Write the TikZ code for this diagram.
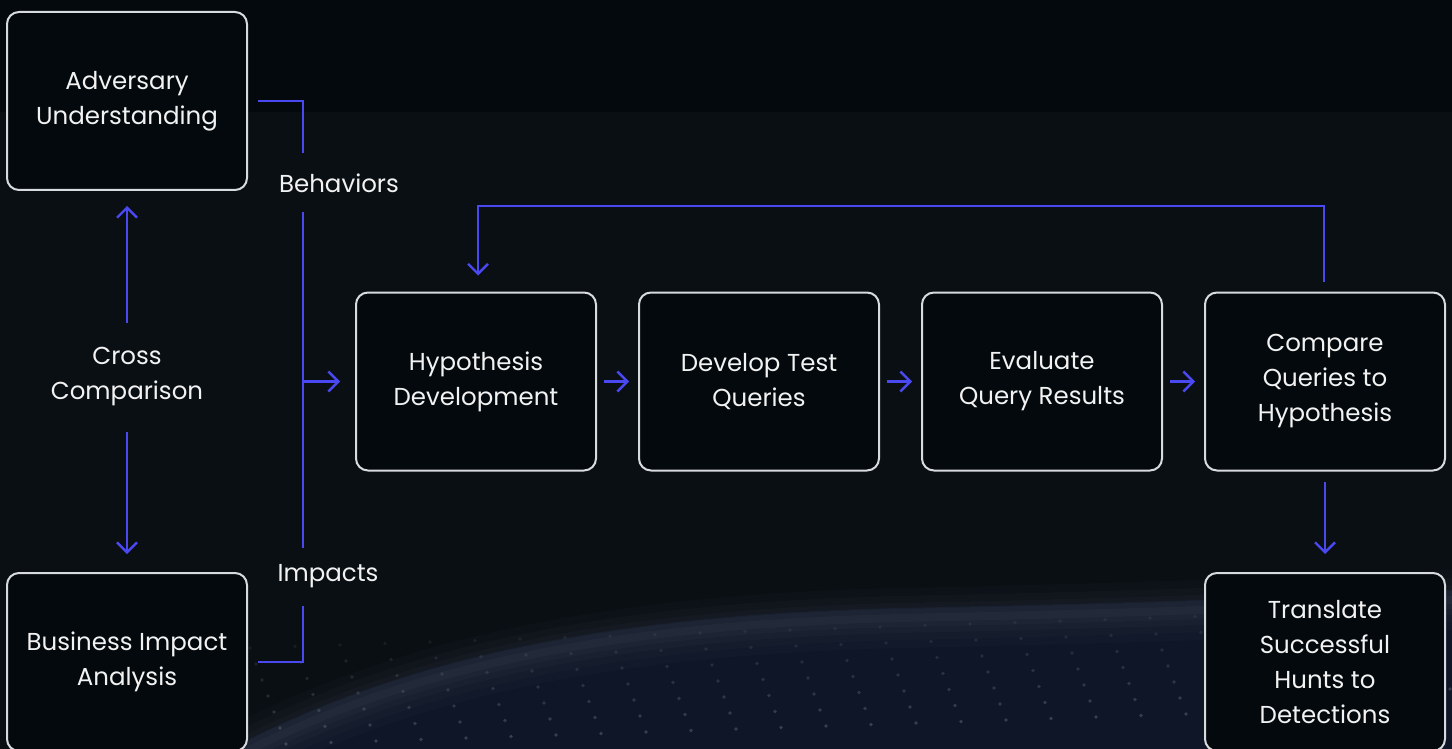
\documentclass[tikz,border=0pt]{standalone}
\usepackage{fontspec}
\setmainfont{Poppins}
\usetikzlibrary{arrows.meta,calc}
\definecolor{bgmain}{HTML}{0A0F14}
\definecolor{bgtop}{HTML}{04090D}
\definecolor{boxfill}{HTML}{03090C}
\definecolor{boxline}{HTML}{D8DBDE}
\definecolor{flow}{RGB}{74,72,240}
\definecolor{txt}{HTML}{F2F2F2}
\definecolor{wave}{HTML}{4A5262}
\definecolor{wavedark}{HTML}{121A30}
\tikzset{
  stepbox/.style={draw=boxline, line width=2pt, fill=boxfill, rounded corners=12pt,
    minimum width=240pt, minimum height=178pt, align=center, text=txt,
    font=\fontsize{24.5}{35}\selectfont, inner sep=0pt},
  lbl/.style={text=txt, align=center, font=\fontsize{24.5}{35}\selectfont, inner sep=0pt},
  conn/.style={draw=flow, line width=2.4pt},
  arr/.style={conn, -{Straight Barb[length=10pt,width=20pt,line width=2.4pt]}},
  crest/.style={draw=wave, line cap=round},
}
\begin{document}
\begin{tikzpicture}[x=1pt,y=-1pt]
\useasboundingbox (0,0) rectangle (1452,749);
\clip (0,0) rectangle (1452,749);
% background
\fill[bgmain] (0,0) rectangle (1452,749);
\fill[bgtop] (0,0) rectangle (1452,112);
\fill[wavedark, opacity=0.7]
  (230,749) .. controls (400,660) and (600,615) .. (900,608)
  .. controls (1200,602) and (1350,594) .. (1452,590) -- (1452,749) -- cycle;
\foreach \w/\o in {60/0.06,44/0.07,30/0.08,18/0.10,8/0.12} {
  \draw[crest, line width=\w pt, opacity=\o]
    (230,760) .. controls (400,670) and (600,625) .. (900,618)
    .. controls (1200,612) and (1350,604) .. (1452,600);
}
\foreach \j in {0,...,6} {
  \foreach \i in {0,...,26} {
    \fill[wave!70!white, opacity={0.12+0.04*\j}]
      ({250+\i*45+\j*6}, {648+\j*16 - \i*1.5}) circle (1.8);
  }
}
% boxes
\node[stepbox] (adv) at (127,101) {Adversary\\Understanding};
\node[stepbox] (bia) at (127,662) {Business Impact\\Analysis};
\node[stepbox] (hyp) at (476,381.5) {Hypothesis\\Development};
\node[stepbox] (dev) at (759,381.5) {Develop Test\\Queries};
\node[stepbox] (eva) at (1042,381.5) {Evaluate\\Query Results};
\node[stepbox] (cmp) at (1325,381.5) {Compare\\Queries to\\Hypothesis};
\node[stepbox] (trn) at (1325,662) {Translate\\Successful\\Hunts to\\Detections};
% labels
\node[lbl] (cc) at (127,377) {Cross\\Comparison};
\node[lbl] (beh) at (339,183) {Behaviors};
\node[lbl] (imp) at (328,576) {Impacts};
% spine coordinates
\coordinate (b1) at (303,153);
\coordinate (b2) at (303,212);
\coordinate (i1) at (303,548);
\coordinate (i2) at (303,606);
\coordinate (br) at (303,381.5);
\coordinate (loop) at (900,206);
% connectors
\draw[conn] ([xshift=10pt]adv.east) -| (b1);
\draw[conn] (b2) -- (i1);
\draw[conn] ([xshift=10pt]bia.east) -| (i2);
\draw[arr] (br) -- ([xshift=-15pt]hyp.west);
\draw[arr] (127,323) -- ($(adv.south)+(0,15)$);
\draw[arr] (127,432) -- ($(bia.north)+(0,-18)$);
\draw[arr] ([xshift=7pt]hyp.east) -- ([xshift=-9pt]dev.west);
\draw[arr] ([xshift=7pt]dev.east) -- ([xshift=-9pt]eva.west);
\draw[arr] ([xshift=7pt]eva.east) -- ([xshift=-9pt]cmp.west);
\draw[arr] ($(cmp.north)+(-1,-10)$) |- (loop) -| ($(hyp.north)+(2,-16)$);
\draw[arr] ($(cmp.south)+(0,10)$) -- ($(trn.north)+(0,-18)$);
\end{tikzpicture}
\end{document}
